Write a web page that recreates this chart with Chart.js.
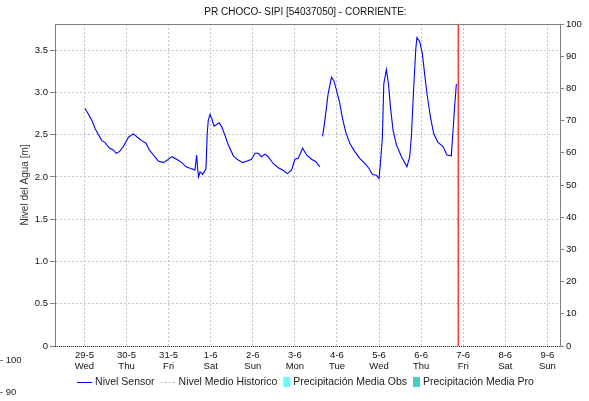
<!DOCTYPE html>
<html><head><meta charset="utf-8">
<script src="https://cdn.jsdelivr.net/npm/chart.js@4"></script>
<style>html,body{margin:0;padding:0;background:#fff;}#wrap{width:589px;height:401px;position:relative;}</style>
</head><body><div id="wrap"><canvas id="c"></canvas></div>
<script>
const chartTitle = 'PR CHOCO- SIPI [54037050] - CORRIENTE:';
const levelAxisTitle = 'Nivel del Agua [m]';
const dayLabels = ['29-5','30-5','31-5','1-6','2-6','3-6','4-6','5-6','6-6','7-6','8-6','9-6'];
const dayNames = ['Wed','Thu','Fri','Sat','Sun','Mon','Tue','Wed','Thu','Fri','Sat','Sun'];
const levelTicks = [0,0.5,1.0,1.5,2.0,2.5,3.0,3.5];
const rainTicks = [0,10,20,30,40,50,60,70,80,90,100];
const strayTicks = ['- 100','- 90'];
// hours after 29-5 tick
const sensorHours = [0.4,4.2,6.1,9.9,11.6,14.4,16.5,18.1,19.9,22.2,25.1,27.9,30.2,32.7,35.1,37.0,39.3,42.1,45.0,47.3,49.8,52.6,55.5,57.9,60.6,62.1,63.0,64.0,64.6,65.1,65.9,67.4,68.3,69.3,70.0,70.6,71.6,72.6,73.9,75.4,76.9,78.6,80.5,82.0,84.9,87.7,90.2,92.8,95.3,97.2,99.1,101.0,102.9,104.8,107.6,110.5,113.3,115.6,118.1,120.0,121.9,124.4,126.7,129.5,132.0,134.2,
  135.0,
  135.8,137.1,139.0,140.9,142.2,143.7,145.6,147.2,149.0,151.3,154.2,157.0,159.9,162.3,164.2,166.5,168.0,168.8,169.9,170.7,172.2,173.4,174.5,176.0,177.9,180.8,183.9,185.5,186.4,187.7,188.9,189.6,191.2,192.7,194.0,195.3,197.3,199.2,201.6,204.5,206.7,209.2,210.2,211.1,212.1];
const sensorLevel = [2.81,2.67,2.57,2.43,2.41,2.34,2.32,2.28,2.30,2.36,2.47,2.51,2.47,2.43,2.40,2.32,2.26,2.19,2.17,2.20,2.24,2.21,2.17,2.12,2.10,2.09,2.08,2.26,2.08,2.00,2.06,2.03,2.06,2.10,2.51,2.67,2.74,2.69,2.60,2.62,2.64,2.58,2.47,2.38,2.25,2.20,2.17,2.19,2.21,2.28,2.28,2.24,2.27,2.24,2.16,2.11,2.08,2.04,2.08,2.21,2.22,2.34,2.26,2.21,2.18,2.12,
  null,
  2.48,2.67,2.99,3.18,3.14,3.03,2.87,2.69,2.53,2.40,2.30,2.22,2.16,2.10,2.03,2.02,1.98,2.16,2.47,3.10,3.27,3.10,2.83,2.55,2.38,2.24,2.12,2.24,2.47,3.03,3.50,3.65,3.60,3.46,3.22,2.99,2.71,2.51,2.41,2.36,2.26,2.25,2.55,2.83,3.10];
const historicLevel = [];
const rainObs = [];
const rainPro = [];
const nowHour = 213.2;
const levelMax = 3.81;
const rainMax = 100;
const hoursMin = -16.8, hoursMax = 271.2;

const FONT = 'Liberation Sans, Arial, sans-serif';

const extras = {
  id: 'extras',
  afterDraw(chart) {
    const {ctx, chartArea: a} = chart;
    ctx.save();
    ctx.strokeStyle = '#808080'; ctx.lineWidth = 1;
    ctx.beginPath(); ctx.moveTo(a.left, a.top + 0.5); ctx.lineTo(a.right, a.top + 0.5); ctx.stroke();
    ctx.strokeStyle = '#333'; ctx.setLineDash([1,1]);
    ctx.beginPath(); ctx.moveTo(a.left, a.bottom + 0.5); ctx.lineTo(a.right, a.bottom + 0.5); ctx.stroke();
    ctx.setLineDash([]);
    // legend
    ctx.font = '10.5px ' + FONT;
    ctx.textBaseline = 'middle';
    const items = chart.data.datasets.filter(d => d.inLegend);
    const symW = d => d.type === 'bar' ? 7 : 15;
    const gapSym = 3, gapItem = 6;
    let total = 0;
    items.forEach((d,i) => { total += symW(d) + gapSym + ctx.measureText(d.label).width + (i < items.length-1 ? gapItem : 0); });
    let x = (22 + chart.width) / 2 - total / 2;
    const y = 382;
    items.forEach(d => {
      if (d.type === 'bar') {
        ctx.fillStyle = d.backgroundColor; ctx.fillRect(x, y - 5, 7, 10);
      } else {
        ctx.strokeStyle = d.borderColor; ctx.lineWidth = 1;
        ctx.setLineDash(d.borderDash || []);
        ctx.beginPath(); ctx.moveTo(x, y + 0.5); ctx.lineTo(x + 15, y + 0.5); ctx.stroke();
        ctx.setLineDash([]);
      }
      x += symW(d) + gapSym;
      ctx.fillStyle = '#222'; ctx.textAlign = 'left';
      ctx.fillText(d.label, x, y);
      x += ctx.measureText(d.label).width + gapItem;
    });
    // stray ticks at bottom-left
    ctx.font = '9.5px ' + FONT; ctx.fillStyle = '#222';
    ctx.fillText(strayTicks[0], 0, 360);
    ctx.fillText(strayTicks[1], 0, 392);
    ctx.restore();
  }
};

new Chart(document.getElementById('c'), {
  type: 'line',
  data: {
    datasets: [
      { label: 'Nivel Sensor', type: 'line', inLegend: true,
        data: sensorHours.map((h,i) => ({x: h, y: sensorLevel[i]})),
        borderColor: '#0000ff', borderWidth: 1.1, pointRadius: 0, tension: 0, spanGaps: false, yAxisID: 'y' },
      { label: 'Nivel Medio Historico', type: 'line', inLegend: true,
        data: historicLevel, borderColor: '#b8b8b8', borderDash: [2,2], borderWidth: 1, pointRadius: 0, yAxisID: 'y' },
      { label: 'Precipitación Media Obs', type: 'bar', inLegend: true,
        data: rainObs, backgroundColor: '#66ffff', yAxisID: 'y1' },
      { label: 'Precipitación Media Pro', type: 'bar', inLegend: true,
        data: rainPro, backgroundColor: '#44cccc', yAxisID: 'y1' },
      { label: 'now', type: 'line', inLegend: false,
        data: [{x: nowHour, y: 0}, {x: nowHour, y: levelMax}],
        borderColor: 'rgba(255,30,30,0.9)', borderWidth: 1.5, pointRadius: 0, yAxisID: 'y' }
    ]
  },
  options: {
    responsive: true, maintainAspectRatio: false, animation: false,
    devicePixelRatio: 1,
    layout: { padding: { left: 22, right: 0, top: 0, bottom: 28 } },
    plugins: {
      legend: { display: false },
      tooltip: { enabled: false },
      title: { display: true, text: chartTitle, color: '#111',
        font: { family: FONT, size: 10, weight: 'normal' }, padding: { top: 6, bottom: 6 } }
    },
    scales: {
      x: {
        type: 'linear', min: hoursMin, max: hoursMax, offset: false,
        afterBuildTicks: s => { s.ticks = dayLabels.map((_, i) => ({ value: i * 24 })); },
        afterFit: s => { s.height = 27; },
        ticks: { autoSkip: false, maxRotation: 0, padding: 3, color: '#111',
          font: { family: FONT, size: 9.5, lineHeight: 1.25 },
          callback: (v, i) => [dayLabels[i], dayNames[i]] },
        grid: { color: '#c4c4c4', drawTicks: false, lineWidth: 1, offset: false },
        border: { display: false, dash: [2,2] }
      },
      y: {
        position: 'left', min: 0, max: levelMax,
        afterBuildTicks: s => { s.ticks = levelTicks.map(v => ({ value: v })); },
        afterFit: s => { s.width = 33; },
        ticks: { padding: 2, color: '#111', font: { family: FONT, size: 9.5 },
          callback: v => v === 0 ? '0' : v.toFixed(1) },
        grid: { color: '#c4c4c4', tickColor: '#808080', tickLength: 5, tickBorderDash: [] },
        border: { color: '#808080', dash: [2,2] },
        title: { display: true, text: levelAxisTitle, color: '#333',
          font: { family: FONT, size: 10 }, padding: { top: -3, bottom: 0 } }
      },
      y1: {
        position: 'right', min: 0, max: rainMax,
        afterBuildTicks: s => { s.ticks = rainTicks.map(v => ({ value: v })); },
        afterFit: s => { s.width = 29; },
        ticks: { padding: 2, color: '#111', font: { family: FONT, size: 9.5 } },
        grid: { drawOnChartArea: false, tickColor: '#808080', tickLength: 4 },
        border: { color: '#808080' }
      }
    }
  },
  plugins: [extras]
});
</script>
</body></html>
